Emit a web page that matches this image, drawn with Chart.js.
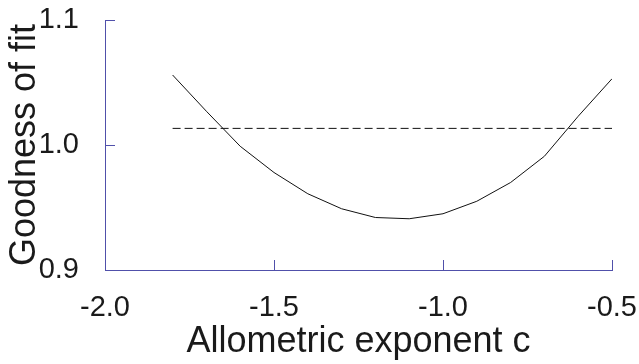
<!DOCTYPE html>
<html>
<head>
<meta charset="utf-8">
<script src="https://cdn.jsdelivr.net/npm/chart.js@4/dist/chart.umd.min.js"></script>
<style>
  html, body { margin: 0; padding: 0; background: #ffffff; }
  #wrap { width: 639px; height: 364px; position: relative; }
</style>
</head>
<body>
<div id="wrap"><canvas id="c" width="639" height="364"></canvas></div>
<script>
// Data
const exponents = [-1.8, -1.7, -1.6, -1.5, -1.4, -1.3, -1.2, -1.1, -1.0, -0.9, -0.8, -0.7, -0.6, -0.5];
const goodness  = [1.056, 1.027, 0.999, 0.978, 0.961, 0.949, 0.942, 0.941, 0.945, 0.955, 0.970, 0.991, 1.023, 1.053];
const thresholdX = [-1.8, -0.5];
const thresholdY = [1.0133, 1.0133];
const xTicks = [-2.0, -1.5, -1.0, -0.5];
const yTicks = [0.9, 1.0, 1.1];

const AXIS = '#5050aa';
const TEXT = '#1a1a1a';
const FONT = "'Liberation Sans', Arial, Helvetica, sans-serif";

const curve = exponents.map((x, i) => ({ x: x, y: goodness[i] }));
const thresh = thresholdX.map((x, i) => ({ x: x, y: thresholdY[i] }));

new Chart(document.getElementById('c'), {
  type: 'line',
  data: {
    datasets: [
      { data: curve, borderColor: '#111', borderWidth: 1, pointRadius: 0, tension: 0, fill: false },
      { data: thresh, borderColor: '#111', borderWidth: 1, borderDash: [8, 4], pointRadius: 0, tension: 0, fill: false }
    ]
  },
  options: {
    responsive: false,
    animation: false,
    devicePixelRatio: 1,
    layout: { padding: { top: 20, right: 27, left: 0, bottom: 0 } },
    plugins: { legend: { display: false }, tooltip: { enabled: false } },
    scales: {
      x: {
        type: 'linear',
        min: -2.0, max: -0.5,
        afterBuildTicks: s => { s.ticks = xTicks.map(v => ({ value: v })); },
        afterFit: s => { s.height = 94; s.paddingLeft = 0; s.paddingRight = 0; },
        border: { color: AXIS, width: 1 },
        grid: { display: true, drawOnChartArea: false, drawTicks: true, tickLength: -10, color: AXIS, lineWidth: 1 },
        ticks: {
          padding: 31,
          color: TEXT,
          font: { family: FONT, size: 29 },
          maxRotation: 0,
          callback: v => Number(v).toFixed(1)
        },
        title: {
          display: true,
          text: 'Allometric exponent c',
          color: TEXT,
          font: { family: FONT, size: 36 },
          padding: { top: 0, bottom: 0 }
        }
      },
      y: {
        type: 'linear',
        min: 0.9, max: 1.1,
        afterBuildTicks: s => { s.ticks = yTicks.map(v => ({ value: v })); },
        afterFit: s => { s.width = 105; s.paddingTop = 0; s.paddingBottom = 0; },
        border: { color: AXIS, width: 1 },
        grid: { display: true, drawOnChartArea: false, drawTicks: true, tickLength: -10, color: AXIS, lineWidth: 1 },
        ticks: {
          padding: 36,
          color: TEXT,
          font: { family: FONT, size: 29 },
          callback: v => Number(v).toFixed(1)
        },
        title: {
          display: true,
          text: 'Goodness of fit',
          color: TEXT,
          font: { family: FONT, size: 36 },
          padding: { top: 3, bottom: 0 }
        }
      }
    }
  }
});
</script>
</body>
</html>
